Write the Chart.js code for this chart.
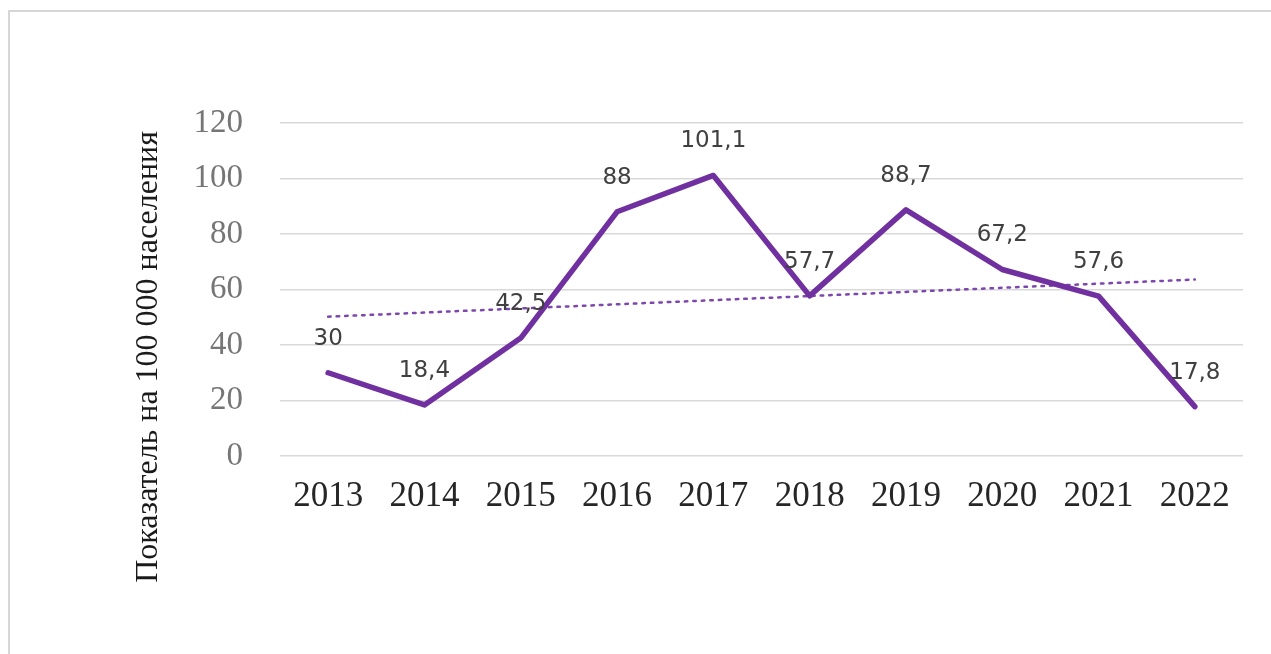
<!DOCTYPE html>
<html>
<head>
<meta charset="utf-8">
<script src="https://cdn.jsdelivr.net/npm/chart.js@4.4.1/dist/chart.umd.min.js"></script>
<style>
  html, body { margin: 0; padding: 0; background: #fff; overflow: hidden; }
  #frame { position: absolute; left: 8px; top: 10px; width: 1300px; height: 700px;
           border-top: 2px solid #d6d6d6; border-left: 2px solid #d6d6d6; }
  #myChart { position: absolute; left: 0; top: 0; }
</style>
</head>
<body>
<div id="frame"></div>
<canvas id="myChart" width="1271" height="654"></canvas>
<script>
const years = ["2013", "2014", "2015", "2016", "2017", "2018", "2019", "2020", "2021", "2022"]
const rates = [30, 18.4, 42.5, 88, 101.1, 57.7, 88.7, 67.2, 57.6, 17.8]
// линия тренда: только крайние точки, между ними прямая
const trend = [50.2, null, null, null, null, null, null, null, null, 63.6]
const yTicks = [0, 20, 40, 60, 80, 100, 120]
const yTitle = 'Показатель на 100 000 населения'

// подписи значений над точками (запятая как десятичный разделитель)
const valueLabels = {
    id: 'valueLabels',
    afterDatasetsDraw(chart) {
        const ctx = chart.ctx
        const meta = chart.getDatasetMeta(0)
        ctx.save()
        ctx.font = '23px "DejaVu Sans"'
        ctx.fillStyle = '#404040'
        ctx.textAlign = 'center'
        ctx.textBaseline = 'middle'
        meta.data.forEach(function(pt, i){
            ctx.fillText(String(rates[i]).replace('.', ','), pt.x, pt.y - 34)
        })
        ctx.restore()
    }
}

// подпись оси Y сдвинута ниже центра области графика
const axisTitle = {
    id: 'axisTitle',
    afterDraw(chart) {
        const ctx = chart.ctx
        const area = chart.chartArea
        ctx.save()
        ctx.translate(149, area.bottom - 99)
        ctx.rotate(-Math.PI / 2)
        ctx.font = '32px "Liberation Serif"'
        ctx.fillStyle = '#1a1a1a'
        ctx.textAlign = 'center'
        ctx.textBaseline = 'middle'
        ctx.fillText(yTitle, 0, 0)
        ctx.restore()
    }
}

document.addEventListener("DOMContentLoaded", function(){
    const data = {
        labels: years,
        datasets: [{
            data: rates,
            borderColor: '#7030a0',
            borderWidth: 5.5,
            pointRadius: 0,
            tension: 0,
            borderJoinStyle: 'round',
            borderCapStyle: 'round'
        }, {
            data: trend,
            spanGaps: true,
            borderColor: '#7d47ad',
            borderWidth: 2.5,
            borderDash: [2.5, 6],
            borderCapStyle: 'round',
            pointRadius: 0
        }]
    }
    const config = {
        type: 'line',
        data: data,
        options: {
            responsive: false,
            animation: false,
            layout: { padding: { left: 130, top: 123, right: 28, bottom: 0 } },
            scales: {
                x: {
                    offset: true,
                    grid: { display: false },
                    border: { display: false },
                    ticks: {
                        color: '#262626',
                        font: { family: '"Liberation Serif"', size: 35 },
                        padding: 12,
                        maxRotation: 0
                    },
                    afterFit: function(scale){ scale.height = 198 }
                },
                y: {
                    min: 0,
                    max: 120,
                    afterBuildTicks: function(scale){
                        scale.ticks = yTicks.map(function(v){ return { value: v } })
                    },
                    grid: { color: '#d9d9d9', lineWidth: 1.6, drawTicks: false },
                    border: { display: false },
                    ticks: {
                        color: '#767676',
                        font: { family: '"Liberation Serif"', size: 33 },
                        padding: 37
                    },
                    afterFit: function(scale){ scale.width = 150 }
                }
            },
            plugins: {
                legend: { display: false },
                tooltip: { enabled: false }
            }
        },
        plugins: [valueLabels, axisTitle]
    }
    var myChart = new Chart(
        document.getElementById('myChart'),
        config
    )
})
</script>
</body>
</html>
